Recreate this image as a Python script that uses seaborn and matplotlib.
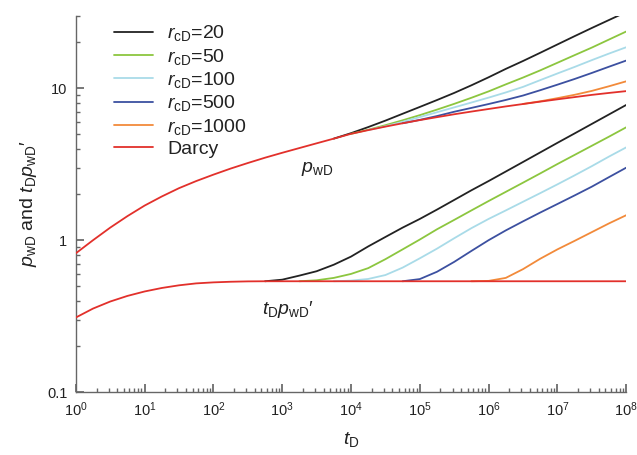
import numpy as np
import pandas as pd
import matplotlib
matplotlib.use("Agg")
import matplotlib.pyplot as plt
import seaborn as sns
from matplotlib.ticker import FixedLocator, LogLocator, NullFormatter

# ---------------- data ----------------
log_t_grid = np.arange(0, 8.001, 0.25)

darcy_pwd = [0.82, 1.00, 1.21, 1.44, 1.69, 1.94, 2.20, 2.45, 2.70, 2.96, 3.22,
             3.49, 3.76, 4.04, 4.34, 4.66, 5.01, 5.30, 5.59, 5.88, 6.17, 6.45,
             6.74, 7.02, 7.30, 7.59, 7.87, 8.16, 8.45, 8.74, 9.04, 9.31, 9.57]
darcy_deriv = [0.31, 0.355, 0.395, 0.43, 0.46, 0.485, 0.505, 0.52, 0.528, 0.533,
               0.536] + [0.537] * 22

# non-Darcy curves: start (log10 tD) and values every 0.25 decade
rcd20_pwd_start, rcd20_pwd = 3.75, [4.66, 5.06, 5.55, 6.12, 6.79, 7.53, 8.36, 9.31, 10.45,
                                    11.8, 13.4, 15.1, 17.1, 19.4, 22.0, 24.9, 28.1, 31.7]
rcd50_pwd_start, rcd50_pwd = 4.0, [5.01, 5.33, 5.71, 6.15, 6.65, 7.23, 7.89, 8.65, 9.53,
                                   10.6, 11.75, 13.1, 14.7, 16.5, 18.5, 20.9, 23.6]
rcd100_pwd_start, rcd100_pwd = 4.25, [5.30, 5.62, 6.01, 6.46, 6.95, 7.48, 8.05, 8.67, 9.38,
                                      10.2, 11.3, 12.5, 13.8, 15.3, 16.9, 18.6]
rcd500_pwd_start, rcd500_pwd = 4.75, [5.88, 6.19, 6.56, 7.0, 7.42, 7.87, 8.37, 8.95, 9.7,
                                      10.55, 11.5, 12.6, 13.85, 15.2]
rcd1000_pwd_start, rcd1000_pwd = 6.5, [7.88, 8.2, 8.6, 9.05, 9.6, 10.3, 11.1]

rcd20_der_start, rcd20_der = 2.75, [0.537, 0.55, 0.585, 0.625, 0.69, 0.78, 0.91, 1.05,
                                    1.21, 1.38, 1.59, 1.84, 2.13, 2.45, 2.83, 3.27,
                                    3.78, 4.37, 5.04, 5.82, 6.72, 7.76]
rcd50_der_start, rcd50_der = 3.25, [0.537, 0.545, 0.565, 0.60, 0.655, 0.75, 0.87, 1.01,
                                    1.18, 1.36, 1.57, 1.81, 2.08, 2.39, 2.75, 3.17,
                                    3.64, 4.18, 4.8, 5.53]
rcd100_der_start, rcd100_der = 3.75, [0.537, 0.542, 0.556, 0.59, 0.66, 0.76, 0.88, 1.03,
                                      1.20, 1.38, 1.57, 1.79, 2.04, 2.33, 2.67, 3.07,
                                      3.55, 4.08]
rcd500_der_start, rcd500_der = 4.75, [0.537, 0.555, 0.62, 0.72, 0.85, 1.0, 1.16,
                                      1.33, 1.52, 1.73, 1.97, 2.25, 2.60, 3.0]
rcd1000_der_start, rcd1000_der = 5.75, [0.537, 0.54, 0.565, 0.645, 0.755, 0.87, 0.99,
                                        1.13, 1.29, 1.46]

series_names = [r"$r_{\mathrm{cD}}$=20", r"$r_{\mathrm{cD}}$=50", r"$r_{\mathrm{cD}}$=100",
                r"$r_{\mathrm{cD}}$=500", r"$r_{\mathrm{cD}}$=1000", "Darcy"]
series_colors = ["#222222", "#8cc63f", "#a9dbe8", "#3c50a0", "#f28a3a", "#e2302b"]

# ---------------- build long-form table ----------------
def seg(start, vals):
    lt = start + 0.25 * np.arange(len(vals))
    return 10 ** lt, np.asarray(vals, float)

rows = []
curves = [
    (0, "pwd", rcd20_pwd_start, rcd20_pwd), (0, "der", rcd20_der_start, rcd20_der),
    (1, "pwd", rcd50_pwd_start, rcd50_pwd), (1, "der", rcd50_der_start, rcd50_der),
    (2, "pwd", rcd100_pwd_start, rcd100_pwd), (2, "der", rcd100_der_start, rcd100_der),
    (3, "pwd", rcd500_pwd_start, rcd500_pwd), (3, "der", rcd500_der_start, rcd500_der),
    (4, "pwd", rcd1000_pwd_start, rcd1000_pwd), (4, "der", rcd1000_der_start, rcd1000_der),
    (5, "pwd", 0.0, darcy_pwd), (5, "der", 0.0, darcy_deriv),
]
for idx, kind, st, vals in curves:
    t, v = seg(st, vals)
    for ti, vi in zip(t, v):
        rows.append({"series": series_names[idx], "curve": f"{idx}-{kind}", "t": ti, "v": vi})
df = pd.DataFrame(rows)

# ---------------- plot ----------------
sns.set_theme(style="ticks")
plt.rcParams["font.family"] = ["Liberation Sans", "DejaVu Sans"]
plt.rcParams["mathtext.fontset"] = "custom"
plt.rcParams["mathtext.rm"] = "Liberation Sans"
plt.rcParams["mathtext.it"] = "Liberation Sans:style=italic"
plt.rcParams["mathtext.bf"] = "Liberation Sans:weight=bold"

fig = plt.figure(figsize=(6.37, 4.55), dpi=100)
ax = fig.add_axes([0.119, 0.138, 0.864, 0.8275])

for i, name in enumerate(series_names):
    sub = df[df["series"] == name]
    sns.lineplot(data=sub, x="t", y="v", units="curve", estimator=None,
                 color=series_colors[i], lw=1.3, ax=ax, label=None,
                 zorder=3 if name == "Darcy" else 2, sort=False)

ax.set_xscale("log")
ax.set_yscale("log")
ax.set_xlim(1, 1e8)
ax.set_ylim(0.1, 30)

ax.xaxis.set_major_locator(FixedLocator([10.0 ** k for k in range(9)]))
ax.set_xticklabels([rf"$10^{{{k}}}$" for k in range(9)])
ax.xaxis.set_minor_locator(LogLocator(base=10, subs=np.arange(2, 10), numticks=20))
ax.xaxis.set_minor_formatter(NullFormatter())
ax.yaxis.set_major_locator(FixedLocator([0.1, 1, 10]))
ax.set_yticklabels(["0.1", "1", "10"])
ax.yaxis.set_minor_locator(LogLocator(base=10, subs=np.arange(2, 10), numticks=20))
ax.yaxis.set_minor_formatter(NullFormatter())

for s in ["top", "right"]:
    ax.spines[s].set_visible(False)
for s in ["left", "bottom"]:
    ax.spines[s].set_color("#666666")
    ax.spines[s].set_linewidth(1.0)
ax.tick_params(axis="both", which="major", direction="in", length=6, color="#666666",
               labelsize=10.5, labelcolor="#222222", pad=6)
ax.tick_params(axis="both", which="minor", direction="in", length=3, color="#666666")

ax.set_xlabel(r"$t_{\mathrm{D}}$", fontsize=14, color="#222222", labelpad=8)
ax.set_ylabel(r"$p_{\mathrm{wD}}$ and $t_{\mathrm{D}}p_{\mathrm{wD}}$′", fontsize=14,
              color="#222222", labelpad=6)

ax.text(10 ** 3.27, 2.95, r"$p_{\mathrm{wD}}$", fontsize=14, va="center", ha="left",
        color="#222222")
ax.text(10 ** 2.70, 0.35, r"$t_{\mathrm{D}}p_{\mathrm{wD}}$′", fontsize=14, va="center",
        ha="left", color="#222222")

handles = [plt.Line2D([], [], color=c, lw=1.3) for c in series_colors]
leg = ax.legend(handles, series_names, loc="upper left", bbox_to_anchor=(0.055, 1.0),
                frameon=False, fontsize=14, handlelength=2.0, handletextpad=0.75,
                labelspacing=0.17, borderaxespad=0.0)
for txt in leg.get_texts():
    txt.set_color("#222222")

fig.savefig("out.png", dpi=100)
